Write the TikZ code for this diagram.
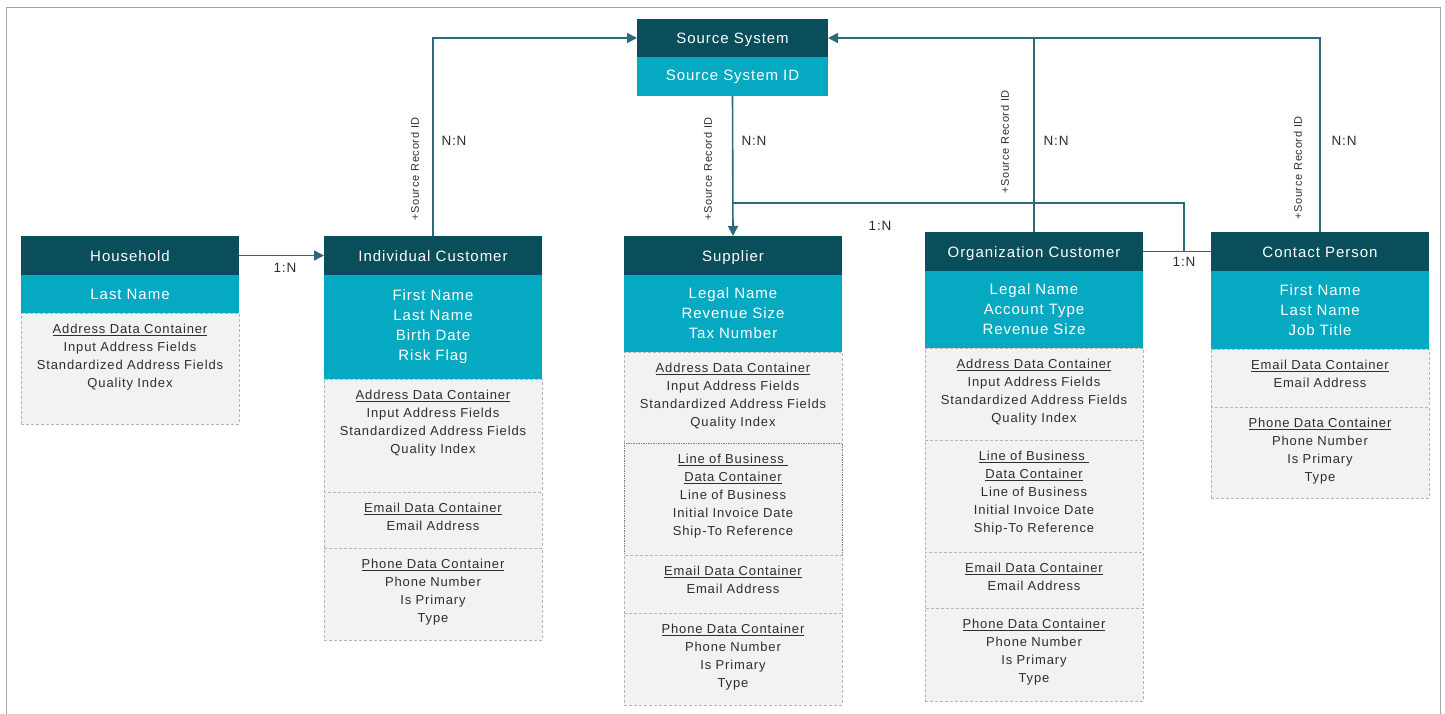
\documentclass[tikz,border=0pt]{standalone}
\usepackage{fontspec}
\setmainfont{Liberation Sans}[LetterSpace=6.5]
\usetikzlibrary{positioning,arrows.meta}

\definecolor{hdrcol}{HTML}{0A4E5C}
\definecolor{attrcol}{HTML}{05A9C2}
\definecolor{linkcol}{HTML}{2A6A7A}
\definecolor{boxfill}{HTML}{F2F2F2}
\definecolor{boxline}{HTML}{B4B4B4}
\definecolor{txtcol}{HTML}{2E2E2E}

\begin{document}
\begin{tikzpicture}[x=1pt, y=-1pt,
  hdr/.style={fill=hdrcol, text=white, minimum width=218pt, minimum height=39pt,
    inner sep=0pt, outer sep=0pt, text height=12pt, text depth=1pt,
    font=\fontsize{15}{18}\selectfont},
  attr/.style={fill=attrcol, text=white, text width=218pt, align=center,
    inner sep=0pt, outer sep=0pt, font=\fontsize{15}{20}\selectfont},
  cont/.style={draw=boxline, line width=1pt, dash pattern=on 3pt off 2pt, fill=boxfill,
    text=txtcol, text width=218pt, align=center, inner sep=0pt, outer sep=0pt,
    text height=20.5pt, font=\fontsize{13}{18}\selectfont},
  link/.style={draw=linkcol, line width=1.6pt},
  linkarr/.style={link, -{Triangle[length=10pt, width=10pt]}},
  card/.style={text=txtcol, font=\fontsize{13.5}{15}\selectfont},
  srid/.style={card, font=\fontsize{11}{13}\selectfont, rotate=90}]

  \useasboundingbox (0,0) rectangle (1445,714);
  \draw[gray!70, line width=1pt] (6.5,714) -- (6.5,8) -- (1440.5,8) -- (1440.5,714);

  % Source system
  \node[hdr, minimum width=191pt, minimum height=38pt, anchor=north west] (ss) at (637,19) {Source System};
  \node[attr, text width=191pt, minimum height=39pt, below=0pt of ss] (ssid) {Source System ID};

  % Household
  \node[hdr, anchor=north west] (hh) at (21,236) {Household};
  \node[attr, minimum height=38pt, below=0pt of hh] (hhattr) {Last Name};
  \node[cont, text depth=90.5pt, below=0pt of hhattr] (hhaddr)
    {\underline{Address Data Container}\\Input Address Fields\\Standardized Address Fields\\Quality Index};

  % Individual customer
  \node[hdr, anchor=north west] (ic) at (324,236) {Individual Customer};
  \node[attr, minimum height=104pt, below=0pt of ic] (icattr) {First Name\\Last Name\\Birth Date\\Risk Flag};
  \node[cont, text depth=92.5pt, below=0pt of icattr] (icaddr)
    {\underline{Address Data Container}\\Input Address Fields\\Standardized Address Fields\\Quality Index};
  \node[cont, text depth=35.5pt, below=0pt of icaddr] (icmail) {\underline{Email Data Container}\\Email Address};
  \node[cont, text depth=71.5pt, below=0pt of icmail] (icphone)
    {\underline{Phone Data Container}\\Phone Number\\Is Primary\\Type};

  % Supplier
  \node[hdr, anchor=north west] (sup) at (624,236) {Supplier};
  \node[attr, minimum height=77pt, below=0pt of sup] (supattr) {Legal Name\\Revenue Size\\Tax Number};
  \node[cont, text depth=70.5pt, below=0pt of supattr] (supaddr)
    {\underline{Address Data Container}\\Input Address Fields\\Standardized Address Fields\\Quality Index};
  \node[cont, text depth=91.5pt, dash pattern=on 1.5pt off 1pt, draw=boxline!70!black, below=0pt of supaddr] (suplob)
    {\underline{Line of Business\ }\\\underline{Data Container}\\Line of Business\\Initial Invoice Date\\Ship-To Reference};
  \node[cont, text depth=37.5pt, below=0pt of suplob] (supmail) {\underline{Email Data Container}\\Email Address};
  \node[cont, text depth=71.5pt, below=0pt of supmail] (supphone)
    {\underline{Phone Data Container}\\Phone Number\\Is Primary\\Type};

  % Organization customer
  \node[hdr, anchor=north west] (oc) at (925,232) {Organization Customer};
  \node[attr, minimum height=77pt, below=0pt of oc] (ocattr) {Legal Name\\Account Type\\Revenue Size};
  \node[cont, text depth=71.5pt, below=0pt of ocattr] (ocaddr)
    {\underline{Address Data Container}\\Input Address Fields\\Standardized Address Fields\\Quality Index};
  \node[cont, text depth=91.5pt, below=0pt of ocaddr] (oclob)
    {\underline{Line of Business\ }\\\underline{Data Container}\\Line of Business\\Initial Invoice Date\\Ship-To Reference};
  \node[cont, text depth=35.5pt, below=0pt of oclob] (ocmail) {\underline{Email Data Container}\\Email Address};
  \node[cont, text depth=72.5pt, below=0pt of ocmail] (ocphone)
    {\underline{Phone Data Container}\\Phone Number\\Is Primary\\Type};

  % Contact person
  \node[hdr, anchor=north west] (cp) at (1211,232) {Contact Person};
  \node[attr, minimum height=78pt, below=0pt of cp] (cpattr) {First Name\\Last Name\\Job Title};
  \node[cont, text depth=37.5pt, below=0pt of cpattr] (cpmail) {\underline{Email Data Container}\\Email Address};
  \node[cont, text depth=70.5pt, below=0pt of cpmail] (cpphone)
    {\underline{Phone Data Container}\\Phone Number\\Is Primary\\Type};

  % Relations
  \coordinate (supjoin) at (733,203);
  \coordinate (cpjoin) at (1184,251.5);
  \draw[linkarr] (hh) -- (ic);
  \draw[linkarr] (ic.north) |- (ss.west);
  \draw[linkarr] (ssid.south) -- (sup.north);
  \draw[linkarr] (oc.north) |- (ss.east);
  \draw[link] (cp.north) |- (oc.north |- ss.east);
  \draw[link] (oc.east) -- (cp.west);
  \draw[link] (supjoin) -| (cpjoin);

  % Labels
  \node[card] (hhic) at (285,268) {1:N};
  \node[srid] (icsrid) at (415,169) {+Source Record ID};
  \node[card] (icnn) at (454,141) {N:N};
  \node[srid] (supsrid) at (708,169) {+Source Record ID};
  \node[card] (supnn) at (754,141) {N:N};
  \node[srid] (ocsrid) at (1005,142) {+Source Record ID};
  \node[card] (ocnn) at (1056,141) {N:N};
  \node[srid] (cpsrid) at (1298,168) {+Source Record ID};
  \node[card] (cpnn) at (1344,141) {N:N};
  \node[card] (supcp) at (880,226) {1:N};
  \node[card] (occp) at (1184,262) {1:N};
\end{tikzpicture}
\end{document}
